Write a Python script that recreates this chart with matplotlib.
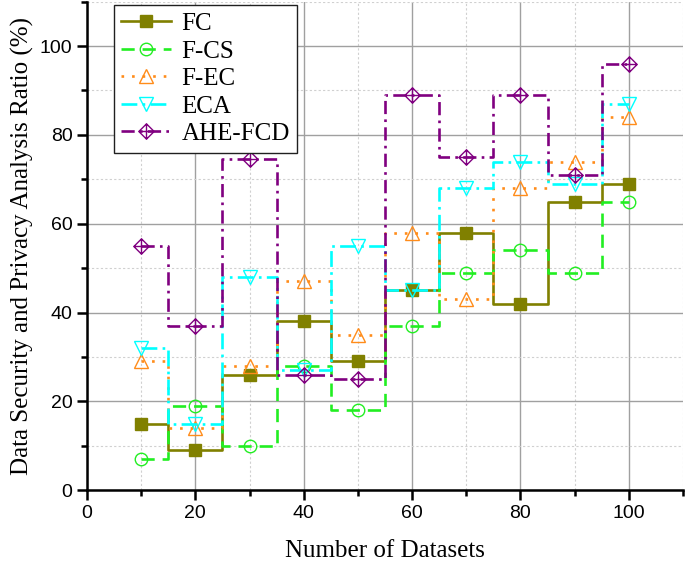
import matplotlib
matplotlib.use("Agg")
import matplotlib.pyplot as plt
from matplotlib.ticker import MultipleLocator
from matplotlib.path import Path

x = [10, 20, 30, 40, 50, 60, 70, 80, 90, 100]
fc = [15, 9, 26, 38, 29, 45, 58, 42, 65, 69]
fcs = [7, 19, 10, 28, 18, 37, 49, 54, 49, 65]
fec = [29, 14, 28, 47, 35, 58, 43, 68, 74, 84]
eca = [32, 15, 48, 27, 55, 45, 68, 74, 69, 87]
ahe = [55, 37, 74.5, 26, 25, 89, 75, 89, 71, 96]

diamond_plus = Path(
    [(0, 1), (1, 0), (0, -1), (-1, 0), (0, 1), (0, 1), (0, -1), (-1, 0), (1, 0)],
    [Path.MOVETO, Path.LINETO, Path.LINETO, Path.LINETO, Path.CLOSEPOLY,
     Path.MOVETO, Path.LINETO, Path.MOVETO, Path.LINETO])

series = [
    ("FC", fc, "#808000", "-", "s", True, 8),
    ("F-CS", fcs, "#22ee22", (0, (5, 3)), "o", False, 9),
    ("F-EC", fec, "#ff8c1a", (0, (1, 3)), "^", False, 10),
    ("ECA", eca, "#00ffff", (0, (6, 2, 1, 2)), "v", False, 10),
    ("AHE-FCD", ahe, "#800080", (0, (5, 2, 1, 2)), diamond_plus, False, 11),
]

fig = plt.figure(figsize=(6.85, 5.64), dpi=100)
ax = fig.add_axes([0.127, 0.131, 0.870, 0.866])

for name, y, c, ls, m, filled, ms in series:
    ax.plot(x, y, drawstyle="steps-mid", color=c, linestyle=ls, linewidth=1.9,
            marker=m, markersize=ms,
            markerfacecolor=c if filled else "none",
            markeredgecolor=c, markeredgewidth=1.0, label=name)

ax.set_xlim(0, 110)
ax.set_ylim(0, 110)
ax.xaxis.set_major_locator(MultipleLocator(20))
ax.xaxis.set_minor_locator(MultipleLocator(10))
ax.yaxis.set_major_locator(MultipleLocator(20))
ax.yaxis.set_minor_locator(MultipleLocator(10))
ax.grid(which="major", color="#a0a0a0", linewidth=1.0, linestyle="-")
ax.grid(which="minor", color="#d0d0d0", linewidth=0.8, linestyle=(0, (2, 2)))
ax.set_axisbelow(True)

for s in ["top", "right"]:
    ax.spines[s].set_visible(False)
for s in ["left", "bottom"]:
    ax.spines[s].set_linewidth(1.8)
ax.tick_params(which="major", direction="out", length=7, width=1.8,
               labelsize=14, labelfontfamily="Liberation Sans")
ax.tick_params(which="minor", direction="out", length=4, width=1.8)

ax.set_xlabel("Number of Datasets", fontsize=18, family="Liberation Serif", labelpad=13)
ax.set_ylabel("Data Security and Privacy Analysis Ratio (%)", fontsize=18,
              family="Liberation Serif", labelpad=4)

leg = ax.legend(loc="upper left", bbox_to_anchor=(0.045, 0.993), frameon=True,
                fancybox=False, edgecolor="#202020", framealpha=1,
                prop={"family": "Liberation Serif", "size": 18},
                handlelength=2.0, borderpad=0.3, labelspacing=0.2,
                handletextpad=0.4, borderaxespad=0)
leg.get_frame().set_linewidth(1.0)

fig.savefig("out.png", dpi=100)
